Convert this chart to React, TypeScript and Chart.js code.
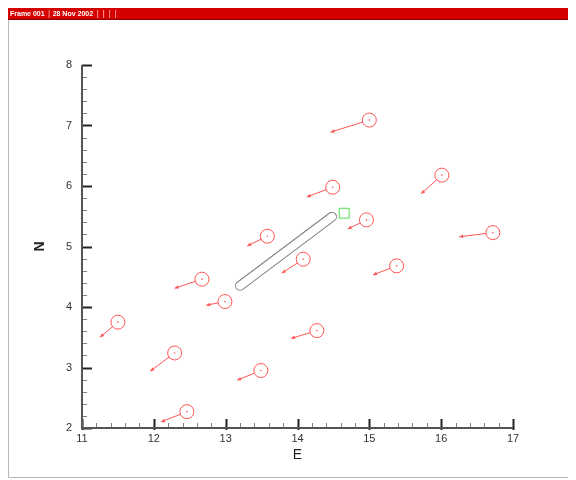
import React, { useEffect, useRef } from 'react';
import { Chart, registerables } from 'chart.js';

Chart.register(...registerables);

// Observation positions (circle) and vector tips (arrow heads)
const circleE = [11.50, 12.29, 12.46, 12.67, 12.99, 13.58, 13.49, 14.08, 14.27, 14.49, 15.00, 14.96, 15.38, 16.01, 16.72];
const circleN = [3.75, 3.24, 2.27, 4.46, 4.09, 5.17, 2.95, 4.79, 3.61, 5.98, 7.09, 5.44, 4.68, 6.18, 5.23];
const tipE = [11.25, 11.95, 12.10, 12.29, 12.73, 13.30, 13.16, 13.78, 13.91, 14.13, 14.46, 14.70, 15.05, 15.72, 16.25];
const tipN = [3.50, 2.94, 2.10, 4.31, 4.03, 5.01, 2.79, 4.56, 3.48, 5.82, 6.89, 5.29, 4.53, 5.87, 5.16];

// Ship outline (centre line ends) and green marker
const shipE = [13.20, 14.48];
const shipN = [4.35, 5.49];
const markerE = [14.65];
const markerN = [5.55];

const xTicks = [11, 12, 13, 14, 15, 16, 17];
const yTicks = [2, 3, 4, 5, 6, 7, 8];
const headerText = ['Frame 001', '28 Nov 2002', '', '', '', ''];

const RED = 'rgb(255,85,85)';

const decorPlugin = {
  id: 'decor',
  beforeDraw(chart: any) {
    const ctx = chart.ctx;
    const w = chart.width;
    const h = chart.height;
    ctx.save();
    ctx.fillStyle = '#ffffff';
    ctx.fillRect(0, 0, w, h);
    ctx.strokeStyle = '#b8b8b8';
    ctx.lineWidth = 1;
    ctx.beginPath();
    ctx.moveTo(0.5, 0);
    ctx.lineTo(0.5, h - 0.5);
    ctx.lineTo(w - 0.5, h - 0.5);
    ctx.lineTo(w - 0.5, 0);
    ctx.stroke();
    ctx.fillStyle = '#d40000';
    ctx.fillRect(0, 0, w, 12);
    ctx.fillStyle = '#8a0000';
    ctx.fillRect(0, 11, w, 1);
    ctx.font = 'bold 7px "Liberation Sans", Arial, sans-serif';
    ctx.textBaseline = 'middle';
    let x = 2;
    headerText.forEach((t, i) => {
      if (i > 0) {
        ctx.fillStyle = '#ff9090';
        ctx.fillRect(x + 2, 2, 1, 8);
        x += 6;
      }
      if (t) {
        ctx.fillStyle = '#ffffff';
        ctx.fillText(t, x, 6);
        x += ctx.measureText(t).width + 2;
      }
    });
    ctx.restore();
  },
  afterDatasetsDraw(chart: any) {
    const ctx = chart.ctx;
    const xs = chart.scales.x;
    const ys = chart.scales.y;
    ctx.save();
    const p1x = xs.getPixelForValue(shipE[0]);
    const p1y = ys.getPixelForValue(shipN[0]);
    const p2x = xs.getPixelForValue(shipE[1]);
    const p2y = ys.getPixelForValue(shipN[1]);
    const L = Math.hypot(p2x - p1x, p2y - p1y);
    const ang = Math.atan2(p2y - p1y, p2x - p1x);
    const hw = 4.5;
    ctx.translate(p1x, p1y);
    ctx.rotate(ang);
    ctx.beginPath();
    ctx.moveTo(0, -hw);
    ctx.lineTo(L, -hw);
    ctx.arc(L, 0, hw, -Math.PI / 2, Math.PI / 2);
    ctx.lineTo(0, hw);
    ctx.arc(0, 0, hw, Math.PI / 2, Math.PI * 1.5);
    ctx.closePath();
    ctx.strokeStyle = '#808080';
    ctx.lineWidth = 1;
    ctx.stroke();
    ctx.restore();

    ctx.save();
    ctx.strokeStyle = RED;
    ctx.fillStyle = RED;
    ctx.lineWidth = 1;
    const r = 7;
    for (let i = 0; i < circleE.length; i++) {
      const cx = xs.getPixelForValue(circleE[i]);
      const cy = ys.getPixelForValue(circleN[i]);
      const tx = xs.getPixelForValue(tipE[i]);
      const ty = ys.getPixelForValue(tipN[i]);
      const d = Math.hypot(tx - cx, ty - cy);
      const ux = (tx - cx) / d;
      const uy = (ty - cy) / d;
      ctx.beginPath();
      ctx.moveTo(cx + ux * r, cy + uy * r);
      ctx.lineTo(tx, ty);
      ctx.stroke();
      const hl = 4;
      const hwid = 1.8;
      const bx = tx - ux * hl;
      const by = ty - uy * hl;
      ctx.beginPath();
      ctx.moveTo(tx, ty);
      ctx.lineTo(bx - uy * hwid, by + ux * hwid);
      ctx.lineTo(bx + uy * hwid, by - ux * hwid);
      ctx.closePath();
      ctx.fill();
      ctx.beginPath();
      ctx.arc(cx, cy, 0.8, 0, Math.PI * 2);
      ctx.fill();
    }
    ctx.restore();
  },
  afterDraw(chart: any) {
    const ctx = chart.ctx;
    const xs = chart.scales.x;
    const ys = chart.scales.y;
    const area = chart.chartArea;
    ctx.save();
    for (let k = 0; k <= 30; k++) {
      const v = xTicks[0] + k * 0.2;
      const px = Math.round(xs.getPixelForValue(v)) + 0.5;
      const major = k % 5 === 0;
      ctx.strokeStyle = major ? '#222222' : '#808080';
      ctx.lineWidth = major ? 2 : 1;
      ctx.beginPath();
      ctx.moveTo(px, area.bottom + (major ? 2 : 0));
      ctx.lineTo(px, area.bottom - (major ? 9 : 5));
      ctx.stroke();
    }
    for (let k = 0; k <= 30; k++) {
      const v = yTicks[0] + k * 0.2;
      const py = Math.round(ys.getPixelForValue(v)) + 0.5;
      const major = k % 5 === 0;
      ctx.strokeStyle = major ? '#222222' : '#808080';
      ctx.lineWidth = major ? 2 : 1;
      ctx.beginPath();
      ctx.moveTo(area.left, py);
      ctx.lineTo(area.left + (major ? 10 : 5), py);
      ctx.stroke();
    }
    ctx.strokeStyle = '#555555';
    ctx.lineWidth = 2;
    ctx.beginPath();
    ctx.moveTo(area.left, area.top);
    ctx.lineTo(area.left, area.bottom);
    ctx.lineTo(area.right, area.bottom);
    ctx.stroke();
    ctx.restore();
  },
};

export default function App() {
  const ref = useRef<HTMLCanvasElement | null>(null);
  useEffect(() => {
    if (!ref.current) return;
    const font = { family: '"Liberation Sans", Arial, sans-serif', size: 11 };
    const chart = new Chart(ref.current, {
      type: 'scatter',
      data: {
        datasets: [
          {
            label: 'Positions',
            data: circleE.map((e, i) => ({ x: e, y: circleN[i] })),
            pointStyle: 'circle',
            pointRadius: 7,
            borderColor: RED,
            backgroundColor: 'rgba(0,0,0,0)',
            borderWidth: 1,
          },
          {
            label: 'Marker',
            data: markerE.map((e, i) => ({ x: e, y: markerN[i] })),
            pointStyle: 'rect',
            pointRadius: 7,
            borderColor: 'rgb(80,220,80)',
            backgroundColor: 'rgba(0,0,0,0)',
            borderWidth: 1,
          },
        ],
      },
      options: {
        animation: false,
        responsive: false,
        maintainAspectRatio: false,
        events: [],
        layout: { padding: { left: 24, top: 57, right: 59, bottom: 14 } },
        plugins: { legend: { display: false }, tooltip: { enabled: false }, title: { display: false } },
        scales: {
          x: {
            type: 'linear',
            min: xTicks[0],
            max: xTicks[xTicks.length - 1],
            afterFit: (s: any) => { s.height = 36; },
            afterBuildTicks: (s: any) => { s.ticks = xTicks.map((v) => ({ value: v })); },
            ticks: { padding: 4, color: '#333333', font, maxRotation: 0, autoSkip: false },
            grid: { display: false, drawTicks: false },
            border: { display: false },
            title: { display: true, text: 'E', color: '#222222', font: { family: font.family, size: 14 }, padding: 0 },
          },
          y: {
            type: 'linear',
            min: yTicks[0],
            max: yTicks[yTicks.length - 1],
            afterFit: (s: any) => { s.width = 50; },
            afterBuildTicks: (s: any) => { s.ticks = yTicks.map((v) => ({ value: v })); },
            ticks: { padding: 10, color: '#333333', font, autoSkip: false },
            grid: { display: false, drawTicks: false },
            border: { display: false },
            title: { display: true, text: 'N', color: '#222222', font: { family: font.family, size: 14, weight: 'bold' }, padding: 0 },
          },
        },
      },
      plugins: [decorPlugin],
    } as any);
    return () => chart.destroy();
  }, []);
  return (
    <div style={{ width: 564, height: 470 }}>
      <canvas ref={ref} width={564} height={470} style={{ display: 'block', width: 564, height: 470 }} />
    </div>
  );
}
